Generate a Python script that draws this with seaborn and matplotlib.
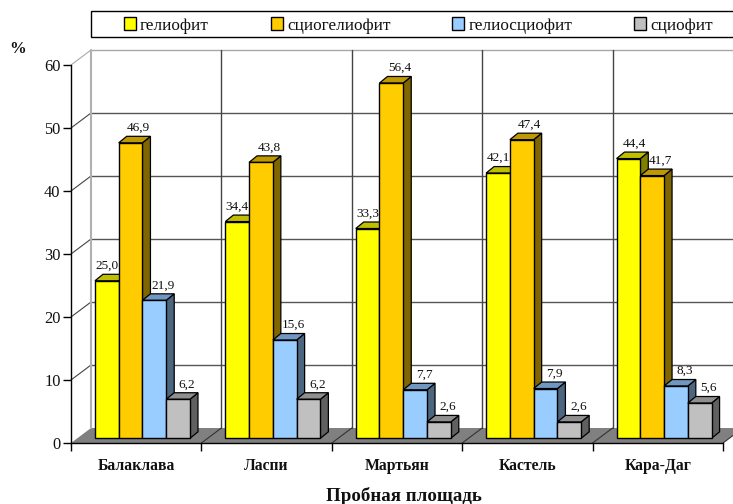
import matplotlib
matplotlib.use("Agg")
import matplotlib.pyplot as plt
import matplotlib.transforms as mtrans
from matplotlib.patches import Polygon, Rectangle
import pandas as pd
import seaborn as sns

sites = ["Балаклава", "Ласпи", "Мартьян", "Кастель", "Кара-Даг"]
series_names = ["гелиофит", "сциогелиофит", "гелиосциофит", "сциофит"]
heliophyte = [25.0, 34.4, 33.3, 42.1, 44.4]
scioheliophyte = [46.9, 43.8, 56.4, 47.4, 41.7]
heliosciophyte = [21.9, 15.6, 7.7, 7.9, 8.3]
sciophyte = [6.2, 6.2, 2.6, 2.6, 5.6]
y_ticks = [0, 10, 20, 30, 40, 50, 60]

front_colors = ["#FFFF00", "#FFCC00", "#99CCFF", "#C0C0C0"]
top_colors = ["#BFBF00", "#BF9900", "#6F97BF", "#8F8F8F"]
side_colors = ["#808000", "#806600", "#4D6680", "#606060"]
label_shift_x = [0, 8, 9, 9]

W, H, DPI = 733, 504, 100
DEPTH_X, DEPTH_Y = 20, 15      # wall offset behind the axis plane, px
BAR_X, BAR_Y = 6.25, 4.7       # bar front offset from the axis plane, px
BAR_DX, BAR_DY = 8, 6.5        # bar depth, px

sns.set_theme(style="white")
plt.rcParams["font.family"] = ["Liberation Serif", "DejaVu Serif"]

fig = plt.figure(figsize=(W / DPI, H / DPI), dpi=DPI, facecolor="white")
ax = fig.add_axes([71 / W, (H - 443) / H, 652 / W, 378 / H])
ax.patch.set_visible(False)

table = pd.DataFrame({
    "site": sites,
    series_names[0]: heliophyte,
    series_names[1]: scioheliophyte,
    series_names[2]: heliosciophyte,
    series_names[3]: sciophyte,
}).melt(id_vars="site", var_name="group", value_name="share")

sns.barplot(data=table, x="site", y="share", hue="group", hue_order=series_names,
            palette=front_colors, saturation=1, width=0.729, gap=0, dodge=True,
            edgecolor="black", linewidth=1, ax=ax, legend=True, zorder=5)
handles, labels = ax.get_legend_handles_labels()
ax.get_legend().remove()

ax.set_xlim(-0.5, len(sites) - 0.5)
ax.set_ylim(0, 60)


def shifted(dx, dy):
    return ax.transData + mtrans.Affine2D().translate(dx, dy)


back = shifted(DEPTH_X, DEPTH_Y)
x0, x1 = ax.get_xlim()

# Floor of the box
floor_corners = [ax.transData.transform(p) for p in [(x0, 0), (x1, 0)]]
floor = Polygon([floor_corners[0], floor_corners[1],
                 floor_corners[1] + (DEPTH_X, DEPTH_Y),
                 floor_corners[0] + (DEPTH_X, DEPTH_Y)],
                transform=mtrans.IdentityTransform(), facecolor="#808080",
                edgecolor="none", clip_on=False, zorder=1)
ax.add_patch(floor)

# Back wall grid and the diagonals running back from the axis ticks
for v in y_ticks[1:]:
    color = "#A8A8A8" if v == y_ticks[-1] else "#555555"
    ax.plot([x0, x1], [v, v], transform=back, color=color, lw=1,
            clip_on=False, zorder=2)
    p = ax.transData.transform((x0, v))
    ax.plot([p[0], p[0] + DEPTH_X], [p[1], p[1] + DEPTH_Y],
            transform=mtrans.IdentityTransform(),
            color="#A8A8A8" if v == y_ticks[-1] else "#444444", lw=0.8,
            clip_on=False, zorder=2)
ax.plot([x0, x0], [0, 60], transform=back, color="#B0B0B0", lw=1.5,
        clip_on=False, zorder=2)
for k in range(1, len(sites) + 1):
    edge = x0 + k
    ax.plot([edge, edge], [0, 60], transform=back, color="#444444", lw=1,
            clip_on=False, zorder=2)
    p = ax.transData.transform((edge, 0))
    ax.plot([p[0], p[0] + DEPTH_X], [p[1], p[1] + DEPTH_Y],
            transform=mtrans.IdentityTransform(), color="#333333", lw=0.8,
            clip_on=False, zorder=2)

# Bars: front faces come from seaborn, depth faces follow each front
front = shifted(BAR_X, BAR_Y)
for i, container in enumerate(ax.containers):
    for j, bar in enumerate(container):
        bar.set_transform(front)
        bar.set_zorder(5 + 2 * i + 1)
        bar.set_clip_on(False)
        xa, xb = bar.get_x(), bar.get_x() + bar.get_width()
        h = bar.get_height()
        (lx, ly), (rx, ry), (_, by) = front.transform([(xa, h), (xb, h), (xb, 0)])
        top = Polygon([(lx, ly), (rx, ry), (rx + BAR_DX, ry + BAR_DY),
                       (lx + BAR_DX, ly + BAR_DY)],
                      transform=mtrans.IdentityTransform(), facecolor=top_colors[i],
                      edgecolor="black", lw=0.9, clip_on=False, zorder=5 + 2 * i)
        side = Polygon([(rx, by), (rx, ry), (rx + BAR_DX, ry + BAR_DY),
                        (rx + BAR_DX, by + BAR_DY)],
                       transform=mtrans.IdentityTransform(), facecolor=side_colors[i],
                       edgecolor="black", lw=0.9, clip_on=False, zorder=5 + 2 * i)
        ax.add_patch(side)
        ax.add_patch(top)
        shift = 6 if (i == 0 and h == 44.4) else label_shift_x[i]
        ax.text(bar.get_x() + bar.get_width() / 2, h, f"{h:.1f}".replace(".", ","),
                transform=shifted(BAR_X + shift, BAR_Y + 15),
                ha="center", va="center", fontsize=9.5, color="#111111",
                clip_on=False, zorder=30)

# Axes furniture
for name in ["top", "right"]:
    ax.spines[name].set_visible(False)
for name in ["left", "bottom"]:
    ax.spines[name].set_color("black")
    ax.spines[name].set_linewidth(1)
    ax.spines[name].set_zorder(4)
ax.set_yticks(y_ticks)
ax.tick_params(axis="y", left=True, length=6, width=1, color="black", pad=1.5,
               labelsize=11.8, labelcolor="#111111")
ax.set_xticks([x0 + k for k in range(len(sites) + 1)])
ax.set_xticklabels([])
ax.set_xticks(range(len(sites)), labels=sites, minor=True)
ax.tick_params(axis="x", which="major", bottom=True, length=6, width=1, color="black")
ax.tick_params(axis="x", which="minor", bottom=False, length=0, pad=11, labelsize=11.3,
               labelcolor="#111111")
for lab in ax.get_xticklabels(minor=True):
    lab.set_fontweight("bold")
ax.set_xlabel("Пробная площадь", fontsize=13.6, fontweight="bold", color="#111111",
              va="center")
ax.xaxis.set_label_coords(333 / 652, -53 / 378)
ax.set_ylabel("")
fig.text(18 / W, 1 - 49 / H, "%", fontsize=12, fontweight="bold", ha="center",
         va="center", color="#111111")

# Legend strip, open past the right edge of the figure
fig.add_artist(Rectangle((91 / W, 1 - 37 / H), 660 / W, 26 / H,
                         transform=fig.transFigure, facecolor="white",
                         edgecolor="black", lw=1))
leg = fig.legend(handles, labels, ncol=4, frameon=False, loc="center left",
                 bbox_to_anchor=(124 / W, 1 - 25.5 / H), borderaxespad=0, borderpad=0,
                 fontsize=12.4, handlelength=0.7, handleheight=0.7, handletextpad=0.23,
                 columnspacing=3.6, labelcolor="#111111")
leg.set_zorder(10)

fig.savefig("out.png", dpi=DPI, facecolor="white")
